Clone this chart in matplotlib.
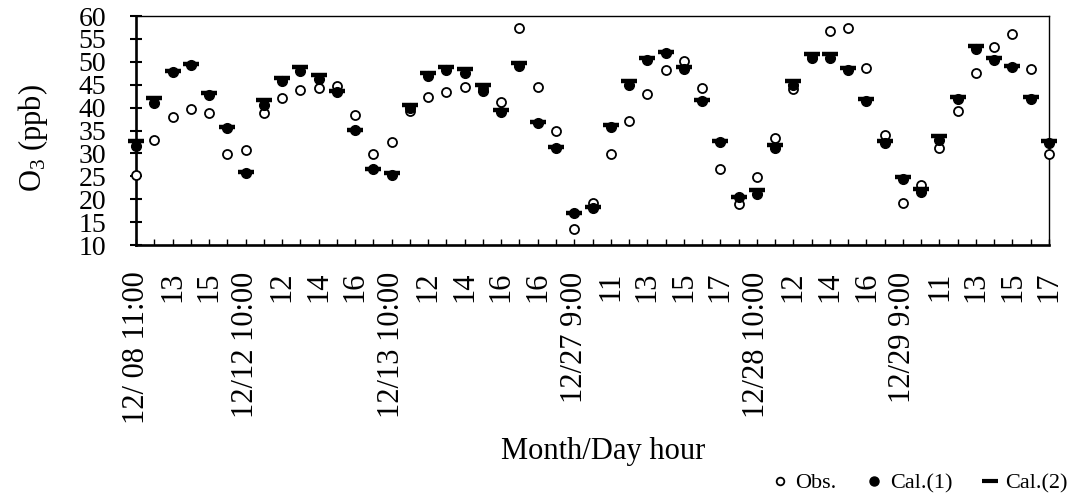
import matplotlib
matplotlib.use("Agg")
import matplotlib.pyplot as plt
from matplotlib.lines import Line2D
import numpy as np

plt.rcParams['font.family'] = ['Liberation Serif', 'DejaVu Serif']
plt.rcParams['mathtext.fontset'] = 'custom'
plt.rcParams['mathtext.rm'] = 'Liberation Serif'
plt.rcParams['mathtext.it'] = 'Liberation Serif:italic'

# hourly O3 (ppb): observed and two calculated series
obs = [25.3, 32.9, 37.9, 39.7, 38.8, 29.8, 30.7, 38.8, 42.0, 43.8,
       44.2, 44.7, 38.3, 29.8, 32.5, 39.3, 42.4, 43.3, 44.6, 44.3,
       41.2, 57.3, 44.6, 34.8, 13.6, 19.1, 29.8, 37.1, 42.9, 48.2,
       50.2, 44.2, 26.7, 19.0, 24.9, 33.4, 44.0, 51.0, 56.8, 57.3,
       48.7, 34.0, 19.1, 23.1, 31.2, 39.3, 47.5, 53.3, 56.0, 48.4,
       29.9]
cal1 = [31.6, 40.9, 47.7, 49.2, 42.8, 35.6, 25.7, 40.6, 45.7, 48.0,
        46.2, 43.3, 35.1, 26.6, 25.3, 39.9, 46.8, 48.2, 47.5, 43.7,
        39.1, 49.1, 36.6, 31.1, 16.9, 18.0, 35.7, 44.9, 50.5, 51.9,
        48.4, 41.5, 32.5, 20.4, 21.1, 31.1, 44.9, 50.8, 50.8, 48.2,
        41.5, 32.3, 24.4, 21.6, 32.9, 41.8, 52.7, 50.4, 48.8, 41.9,
        32.3]
cal2 = [32.6, 42.1, 48.1, 49.5, 43.1, 35.7, 25.9, 41.7, 46.5, 48.9,
        47.1, 43.7, 35.1, 26.6, 25.8, 40.6, 47.5, 48.9, 48.4, 44.9,
        39.5, 49.8, 36.8, 31.3, 16.9, 18.2, 36.2, 45.7, 50.8, 52.1,
        48.8, 41.7, 32.6, 20.5, 21.9, 31.8, 45.8, 51.6, 51.6, 48.6,
        41.8, 32.6, 24.9, 22.2, 33.8, 42.4, 53.4, 50.8, 49.1, 42.4,
        32.6]

# labels shown on every other hour
tick_labels = ['12/ 08 11:00', '13', '15', '12/12 10:00', '12', '14', '16',
               '12/13 10:00', '12', '14', '16', '16', '12/27 9:00', '11',
               '13', '15', '17', '12/28 10:00', '12', '14', '16',
               '12/29 9:00', '11', '13', '15', '17']

n = len(obs)
x = np.arange(n)

W, H = 1072, 501
fig = plt.figure(figsize=(W / 100, H / 100), dpi=100)
ax = fig.add_axes([136 / W, 1 - 245 / H, (1049 - 136) / W, (245 - 16) / H])

ax.plot(x, obs, linestyle='none', marker='o', markersize=6.5,
        markerfacecolor='white', markeredgecolor='black',
        markeredgewidth=1.3, clip_on=False, zorder=3)
ax.plot(x, cal1, linestyle='none', marker='o', markersize=7,
        color='black', clip_on=False, zorder=4)
ax.plot(x, cal2, linestyle='none', marker='_', markersize=11,
        markeredgewidth=3.2, color='black', clip_on=False, zorder=5)

ax.set_xlim(0, n - 1)
ax.set_ylim(10, 60)
ax.set_yticks(np.arange(10, 61, 5))

labels = [''] * n
labels[::2] = tick_labels
ax.set_xticks(x)
ax.set_xticklabels(labels, rotation=90, fontsize=22)

ax.tick_params(axis='y', direction='inout', length=9, width=1.5,
               labelsize=20, pad=17)
ax.tick_params(axis='x', direction='in', length=4.5, width=1.0, pad=19)

for side in ['left', 'bottom']:
    ax.spines[side].set_linewidth(1.9)
for side in ['top', 'right']:
    ax.spines[side].set_linewidth(1.0)

fig.text(603 / W, 1 - 452 / H, 'Month/Day hour', fontsize=22,
         ha='center', va='center')
fig.text(33 / W, 1 - 138 / H, r'O$_3$ (ppb)', fontsize=22,
         rotation=90, ha='center', va='center')

handles = [
    Line2D([], [], linestyle='none', marker='o', markersize=5.5,
           markerfacecolor='white', markeredgecolor='black', markeredgewidth=1.3),
    Line2D([], [], linestyle='none', marker='o', markersize=6.5, color='black'),
    Line2D([], [], linestyle='none', marker='_', markersize=12,
           markeredgewidth=3, color='black'),
]
fig.legend(handles, ['Obs.', 'Cal.(1)', 'Cal.(2)'], ncol=3, loc='center right',
           bbox_to_anchor=(1068 / W, 1 - 483 / H), frameon=False, fontsize=16,
           handlelength=0.8, handletextpad=0.3, columnspacing=1.3,
           borderaxespad=0, borderpad=0)

fig.savefig('out.png', dpi=100)
